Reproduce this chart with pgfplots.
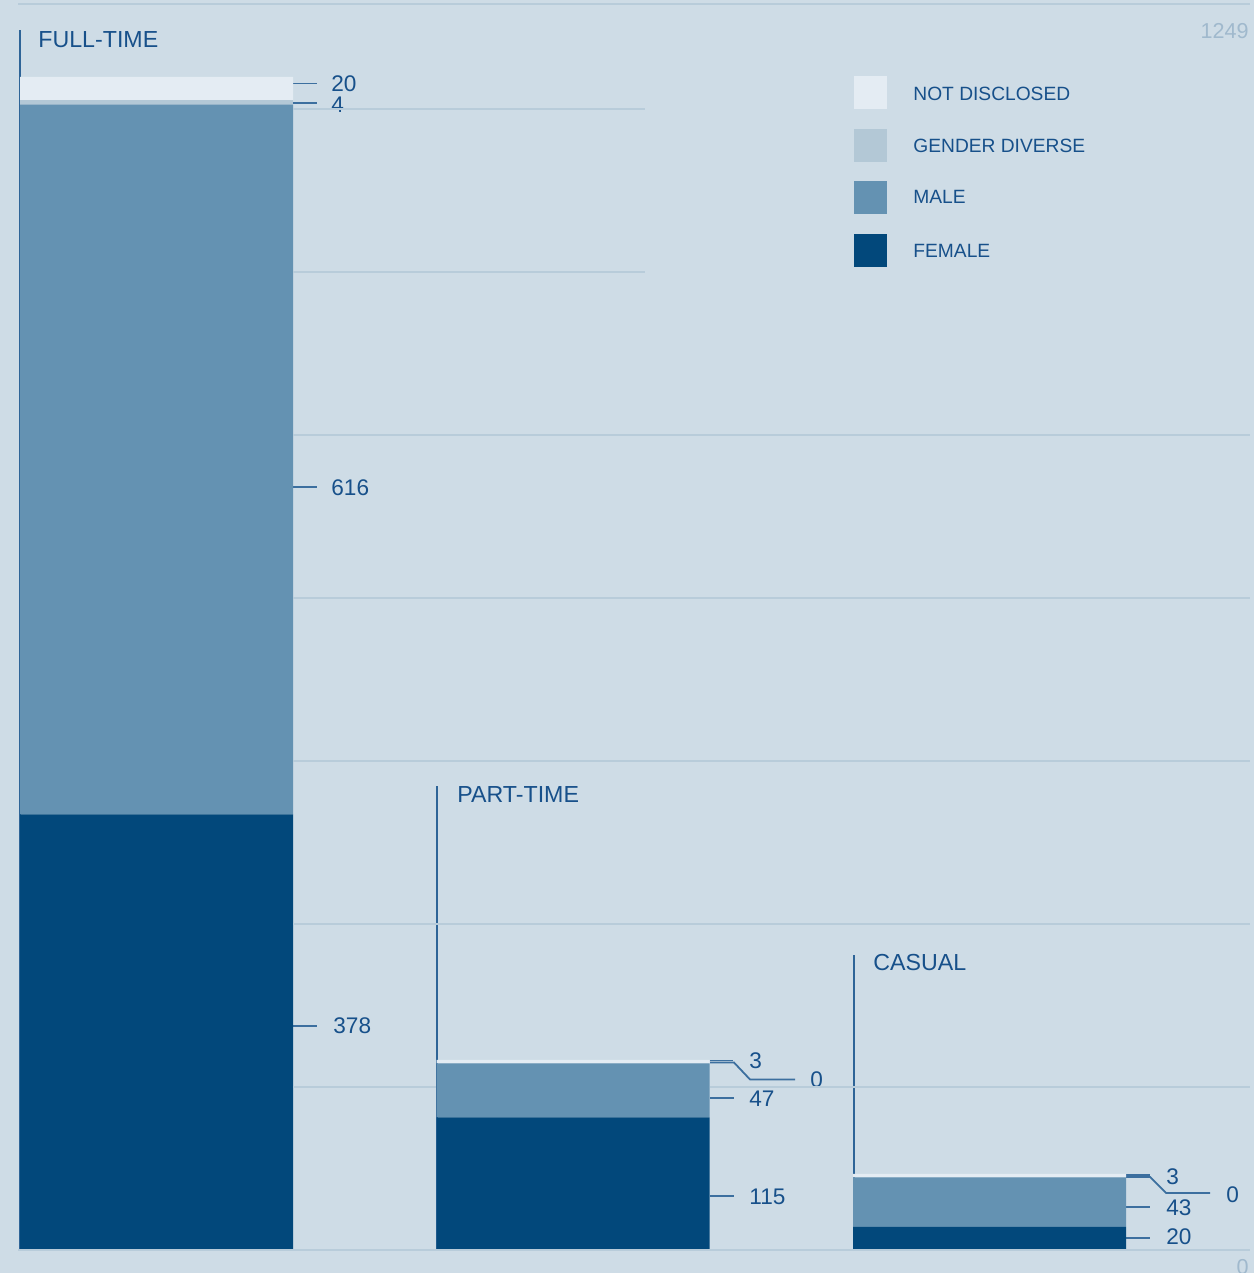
\documentclass[border=0pt]{standalone}
\usepackage{fontspec}
\setmainfont{Liberation Sans}
\usepackage{pgfplots}
\pgfplotsset{compat=1.18}
\usetikzlibrary{backgrounds}
\definecolor{bgc}{HTML}{CEDCE6}
\definecolor{cfemale}{HTML}{02487B}
\definecolor{cmale}{HTML}{6492B2}
\definecolor{cdiverse}{HTML}{B3C8D6}
\definecolor{cnot}{HTML}{E4ECF3}
\definecolor{ctxt}{HTML}{17508A}
\definecolor{cgrid}{HTML}{B8CCDA}
\definecolor{cvline}{HTML}{2E6497}
\definecolor{clead}{HTML}{3C6F9F}
\definecolor{clgray}{HTML}{A0B9CD}
\newcommand\fbig{\fontsize{11.6}{13}\selectfont}
\newcommand\fnum{\fontsize{11.3}{13}\selectfont}
\newcommand\fleg{\fontsize{9.6}{11}\selectfont}
\newcommand\fext{\fontsize{10.8}{12}\selectfont}
\tikzset{
  lbl/.style={text=ctxt, inner sep=0pt, anchor=west, font=\fbig},
  num/.style={text=ctxt, inner sep=0pt, anchor=west, font=\fnum},
  leg/.style={text=ctxt, inner sep=0pt, anchor=west, font=\fleg},
  ext/.style={text=clgray, inner sep=0pt, anchor=east, font=\fext},
  ld/.style={clead, line width=0.9pt},
  gl/.style={cgrid, line width=1pt},
  vl/.style={cvline, line width=1pt},
}
\begin{document}
\begin{tikzpicture}
\begin{axis}[
  width=627pt, height=636.5pt, scale only axis,
  xmin=0, xmax=1254, ymin=-19.96, ymax=1084.8,
  axis lines=none, ticks=none, clip=false,
  ybar stacked, bar width=273,
]
\coordinate (BL) at (rel axis cs:0,0);
\coordinate (TR) at (rel axis cs:1,1);
% grid lines
\draw[gl] (axis cs:18,1081.3) -- (axis cs:1250,1081.3);
\draw[gl] (axis cs:293,990.2) -- (axis cs:645,990.2);
\draw[gl] (axis cs:293,848.7) -- (axis cs:645,848.7);
\draw[gl] (axis cs:293,707.3) -- (axis cs:1250,707.3);
\draw[gl] (axis cs:293,565.8) -- (axis cs:1250,565.8);
\draw[gl] (axis cs:293,424.4) -- (axis cs:1250,424.4);
\draw[gl] (axis cs:293,282.9) -- (axis cs:1250,282.9);
\draw[gl] (axis cs:293,141.5) -- (axis cs:436,141.5);
\draw[gl] (axis cs:710,141.5) -- (axis cs:1250,141.5);
\draw[gl] (axis cs:18,0) -- (axis cs:1250,0);
% bars
\addplot[fill=cfemale, draw=none] coordinates {(156.5,378) (573,115) (989.5,20)};
\addplot[fill=cmale, draw=none] coordinates {(156.5,616) (573,47) (989.5,43)};
\addplot[fill=cdiverse, draw=none] coordinates {(156.5,4) (573,0) (989.5,0)};
\addplot[fill=cnot, draw=none] coordinates {(156.5,20) (573,3) (989.5,3)};
% category lines and labels
\draw[vl] (axis cs:19.5,0) -- (axis cs:19.5,1058.8);
\draw[vl] (axis cs:436.5,0) -- (axis cs:436.5,402.7);
\draw[vl] (axis cs:853.5,0) -- (axis cs:853.5,256.0);
\node[lbl] at (axis cs:38,1050.1) {FULL-TIME};
\node[lbl] at (axis cs:457,394.9) {PART-TIME};
\node[lbl] at (axis cs:873,249.1) {CASUAL};
% full-time values
\draw[ld] (axis cs:293,1012.3) -- (axis cs:317,1012.3);
\node[num] at (axis cs:331,1012.3) {20};
\draw[ld] (axis cs:293,995.4) -- (axis cs:317,995.4);
\node[num] at (axis cs:331,994.0) {4};
\draw[ld] (axis cs:293,662.2) -- (axis cs:317,662.2);
\node[num] at (axis cs:331,661.5) {616};
\draw[ld] (axis cs:293,194.4) -- (axis cs:317,194.4);
\node[num] at (axis cs:333,194.4) {378};
% part-time values
\draw[ld] (axis cs:710,164.5) -- (axis cs:733,164.5);
\node[num] at (axis cs:749,164.1) {3};
\draw[ld] (axis cs:710,162.7) -- (axis cs:734,162.7) -- (axis cs:750,148.0) -- (axis cs:795,148.0);
\node[num] at (axis cs:810,147.5) {0};
\draw[ld] (axis cs:710,131.9) -- (axis cs:734,131.9);
\node[num] at (axis cs:749,131.0) {47};
\draw[ld] (axis cs:710,46.9) -- (axis cs:734,46.9);
\node[num] at (axis cs:749,46.0) {115};
% casual values
\draw[ld] (axis cs:1126,65.1) -- (axis cs:1150,65.1);
\node[num] at (axis cs:1166,63.4) {3};
\draw[ld] (axis cs:1126,63.4) -- (axis cs:1150,63.4) -- (axis cs:1166,49.5) -- (axis cs:1210,49.5);
\node[num] at (axis cs:1226,47.7) {0};
\draw[ld] (axis cs:1126,37.3) -- (axis cs:1150,37.3);
\node[num] at (axis cs:1166,36.4) {43};
\draw[ld] (axis cs:1126,10.4) -- (axis cs:1150,10.4);
\node[num] at (axis cs:1166,11.3) {20};
% axis extremes
\node[ext] at (axis cs:1249,1057.9) {1249};
\node[ext] at (axis cs:1249,-14.5) {0};
% legend
\fill[cnot] (axis cs:854,990.2) rectangle (axis cs:887,1018.8);
\node[leg] at (axis cs:913,1003.2) {NOT DISCLOSED};
\fill[cdiverse] (axis cs:854,944.2) rectangle (axis cs:887,972.8);
\node[leg] at (axis cs:913,958.1) {GENDER DIVERSE};
\fill[cmale] (axis cs:854,899.1) rectangle (axis cs:887,927.7);
\node[leg] at (axis cs:913,913.8) {MALE};
\fill[cfemale] (axis cs:854,853.1) rectangle (axis cs:887,881.7);
\node[leg] at (axis cs:913,867.0) {FEMALE};
\end{axis}
\begin{scope}[on background layer]
\fill[bgc] (BL) rectangle (TR);
\end{scope}
\pgfresetboundingbox
\useasboundingbox (BL) rectangle (TR);
\end{tikzpicture}
\end{document}
